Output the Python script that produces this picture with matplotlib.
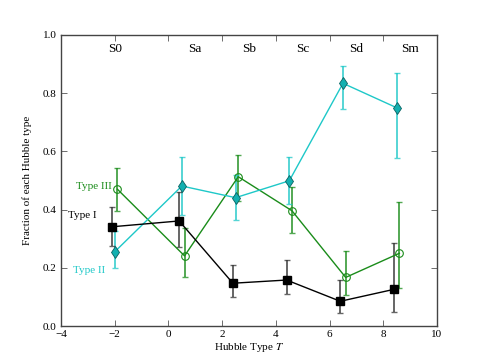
import matplotlib
matplotlib.use('Agg')
import matplotlib.pyplot as plt
import numpy as np

plt.rcParams['font.family'] = ['Liberation Serif', 'DejaVu Serif']
plt.rcParams['mathtext.fontset'] = 'stix'

# Type I (disc profile) fractions, with lower / upper error limits
t1_x = [-2.1, 0.4, 2.4, 4.4, 6.4, 8.4]
t1_y = [0.341, 0.361, 0.147, 0.158, 0.085, 0.126]
t1_lo = [0.276, 0.270, 0.100, 0.109, 0.043, 0.049]
t1_hi = [0.410, 0.460, 0.210, 0.227, 0.158, 0.284]

# Type II
t2_x = [-2.0, 0.5, 2.5, 4.5, 6.5, 8.5]
t2_y = [0.255, 0.481, 0.441, 0.499, 0.834, 0.750]
t2_lo = [0.198, 0.383, 0.364, 0.419, 0.745, 0.576]
t2_hi = [0.326, 0.581, 0.520, 0.581, 0.894, 0.868]

# Type III
t3_x = [-1.9, 0.6, 2.6, 4.6, 6.6, 8.6]
t3_y = [0.470, 0.241, 0.513, 0.396, 0.167, 0.250]
t3_lo = [0.396, 0.169, 0.430, 0.321, 0.107, 0.132]
t3_hi = [0.542, 0.336, 0.589, 0.477, 0.258, 0.425]

hubble_names = ['S0', 'Sa', 'Sb', 'Sc', 'Sd', 'Sm']
hubble_pos = [-2, 1, 3, 5, 7, 9]

cyan = '#1ec8c8'
green = '#1a8c1a'

fig = plt.figure(figsize=(4.85, 3.63), dpi=100)
ax = fig.add_axes([0.1258, 0.1019, 0.7752, 0.8017])

def series(x, y, lo, hi, col, ecol, **kw):
	y = np.array(y)
	err = [y - np.array(lo), np.array(hi) - y]
	ax.errorbar(x, y, yerr=err, fmt='none', ecolor=ecol, elinewidth=1.4,
				capsize=2.2, capthick=1.0, alpha=0.75, zorder=2)
	ax.plot(x, y, color=col, lw=1.0, zorder=3, **kw)

series(t3_x, t3_y, t3_lo, t3_hi, green, green, marker='o', ms=5.5,
	   mfc='none', mec=green, mew=0.8)
series(t2_x, t2_y, t2_lo, t2_hi, cyan, cyan, marker='d', ms=6,
	   mfc='#12b0b0', mec='#0a6060', mew=0.6)
series(t1_x, t1_y, t1_lo, t1_hi, 'k', '#333333', marker='s', ms=5.2,
	   mfc='k', mec='k')

# labels for the three profile types
ax.text(-2.77, 0.479, 'Type III', color=green, fontsize=8, ha='center', va='center')
ax.text(-3.22, 0.381, 'Type I', color='k', fontsize=8, ha='center', va='center')
ax.text(-2.96, 0.192, 'Type II', color=cyan, fontsize=8, ha='center', va='center')

for name, p in zip(hubble_names, hubble_pos):
	ax.text(p, 0.952, name, fontsize=9.5, ha='center', va='center')

ax.set_xlim(-4, 10)
ax.set_ylim(0, 1.0)
ax.set_xticks(np.arange(-4, 11, 2))
ax.set_yticks(np.arange(0, 1.01, 0.2))
ax.set_xticklabels(['\u22124', '\u22122', '0', '2', '4', '6', '8', '10'])
ax.set_yticklabels(['0.0', '0.2', '0.4', '0.6', '0.8', '1.0'])
ax.tick_params(direction='in', top=True, right=True, labelsize=8,
			   length=4, width=0.6, color='#555555', pad=3)
for s in ax.spines.values():
	s.set_color('#444444')
	s.set_linewidth(1.0)

ax.set_xlabel('Hubble Type $T$', fontsize=8, labelpad=1)
ax.set_ylabel('Fraction of each Hubble type', fontsize=8, labelpad=8)

fig.savefig('out.png', dpi=100)
